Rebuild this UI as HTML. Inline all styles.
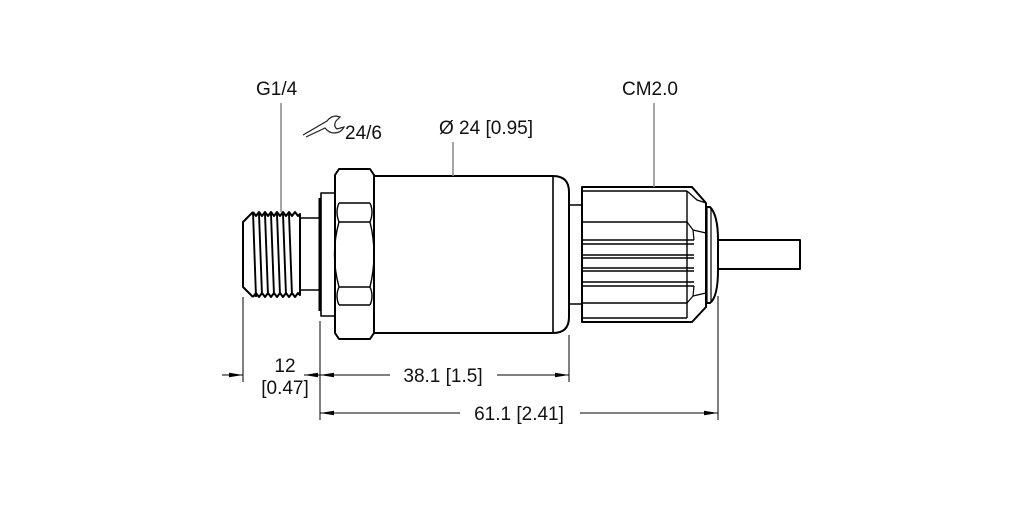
<!DOCTYPE html>
<html><head><meta charset="utf-8"><style>
html,body{margin:0;padding:0;background:#fff;}
svg{display:block;}
text{font-family:"Liberation Sans",sans-serif;font-size:19px;fill:#111;}
</style></head><body>
<svg width="1022" height="511" viewBox="0 0 1022 511" xmlns="http://www.w3.org/2000/svg">
<defs>
<marker id="a" viewBox="0 0 14 6" refX="14" refY="3" markerWidth="14" markerHeight="6" orient="auto-start-reverse" markerUnits="userSpaceOnUse"><path d="M0,0.8 L14,3 L0,5.2 Z" fill="#000"/></marker>
</defs>
<g fill="none" stroke="#000" stroke-width="2" stroke-linejoin="round">
<path d="M253,212 L243,222 L243,287 L253,297"/>
<path d="M253,212 l3,4 l3,-4 l3,4 l3,-4 l3,4 l3,-4 l3,4 l3,-4 l3,4 l3,-4 l3,4 l3,-4 l3,4 l3,-4 l3,4 l2,-2 L300,218"/>
<path d="M253,297 l3,-4 l3,4 l3,-4 l3,4 l3,-4 l3,4 l3,-4 l3,4 l3,-4 l3,4 l3,-4 l3,4 l3,-4 l3,4 l3,-4 l2,2 L300,290"/>
<g stroke-width="1.9">
<line x1="253" y1="212" x2="256" y2="297"/>
<line x1="259" y1="214" x2="262" y2="295"/>
<line x1="265" y1="214" x2="268" y2="295"/>
<line x1="271" y1="214" x2="274" y2="295"/>
<line x1="277" y1="214" x2="280" y2="295"/>
<line x1="283" y1="214" x2="286" y2="295"/>
<line x1="289" y1="214" x2="292" y2="295"/>
</g>
<path d="M300,218 L300,290"/>
<rect x="300" y="218" width="20" height="72" stroke-width="1.6"/>
<line x1="320" y1="198" x2="320" y2="311" stroke-width="3"/>
<rect x="321" y="193" width="14" height="123" stroke-width="1.6"/>
<path d="M339,169 L370,169 L374,175 L374,333 L370,339 L339,339 L335,333 L335,175 Z"/>
<path d="M339,203 L370,203 M339,222 L370,222 M339,287 L370,287 M339,305 L370,305" stroke-width="1.6"/>
<path d="M339,203 Q335,212 339,222 M370,203 Q374,212 370,222 M339,222 Q330,254 339,287 M370,222 Q378,254 370,287 M339,305 Q335,296 339,287 M370,305 Q374,296 370,287" stroke-width="1.4"/>
<path d="M374,176 L553,176 Q569,176 569,192 L569,317 Q569,333 553,333 L374,333"/>
<line x1="553" y1="176" x2="553" y2="333" stroke-width="1.6"/>
<rect x="569" y="205" width="13" height="99" stroke-width="1.6"/>
<path d="M582,187 L692,187 L706,203 L706,307 L692,322 L582,322 Z"/>
<path d="M582,191 L687,191 M582,222 L687,222 M582,303 L687,303 M687,191 L687,318 M582,318 L687,318" stroke-width="1.4"/>
<path d="M582,240 L694,240 M582,244 L694,244 M582,255 L694,255 M582,258 L694,258 M582,268 L694,268 M582,271 L694,271 M582,282 L694,282 M582,286 L694,286" stroke-width="1.6"/>
<path d="M687,222 L693,230 L694,240 M687,303 L693,296 L694,286 M693,230 L706,233 M693,296 L706,293 M687,191 L697,200 L706,203" stroke-width="1.2"/>
<path d="M706,207 L710,207 Q718,215 718,240 L718,270 Q718,297 710,303 L706,303" />
<line x1="707" y1="207" x2="707" y2="303" stroke-width="1.2"/>
<line x1="711" y1="208" x2="711" y2="302" stroke-width="1.2"/>
<path d="M718,240 L800,240 L800,269 L718,269"/>
</g>
<g stroke="#888" stroke-width="1.5">
<line x1="281" y1="103" x2="281" y2="212"/>
<line x1="453" y1="142" x2="453" y2="176"/>
<line x1="654" y1="103" x2="654" y2="187"/>
</g>
<g stroke="#000" stroke-width="1">
<line x1="243" y1="297" x2="243" y2="382"/>
<line x1="320" y1="321" x2="320" y2="420"/>
<line x1="569" y1="335" x2="569" y2="382"/>
<line x1="718" y1="296" x2="718" y2="420"/>
</g>
<g stroke="#000" stroke-width="1">
<line x1="222" y1="375" x2="243" y2="375" marker-end="url(#a)"/>
<line x1="304" y1="375" x2="320" y2="375" marker-start="url(#a)"/>
<line x1="320" y1="375" x2="390" y2="375" marker-start="url(#a)"/>
<line x1="497" y1="375" x2="569" y2="375" marker-end="url(#a)"/>
<line x1="320" y1="413" x2="460" y2="413" marker-start="url(#a)"/>
<line x1="580" y1="413" x2="718" y2="413" marker-end="url(#a)"/>
</g>
<g fill="none" stroke="#222" stroke-width="1.2">
<path d="M303,135 L327,121 Q331,116 336,116 L340,117 L336,121 Q333,126 337,129 L344,127 Q341,133 334,133 Q329,133 325,128 L306,137"/>
</g>
<text x="345" y="139">24/6</text>
<text x="256" y="95">G1/4</text>
<text x="439" y="134">Ø 24 [0.95]</text>
<text x="622" y="95">CM2.0</text>
<text x="285" y="372" text-anchor="middle">12</text>
<text x="285" y="394" text-anchor="middle">[0.47]</text>
<text x="443" y="382" text-anchor="middle">38.1 [1.5]</text>
<text x="519" y="420" text-anchor="middle">61.1 [2.41]</text>
</svg>
</body></html>
